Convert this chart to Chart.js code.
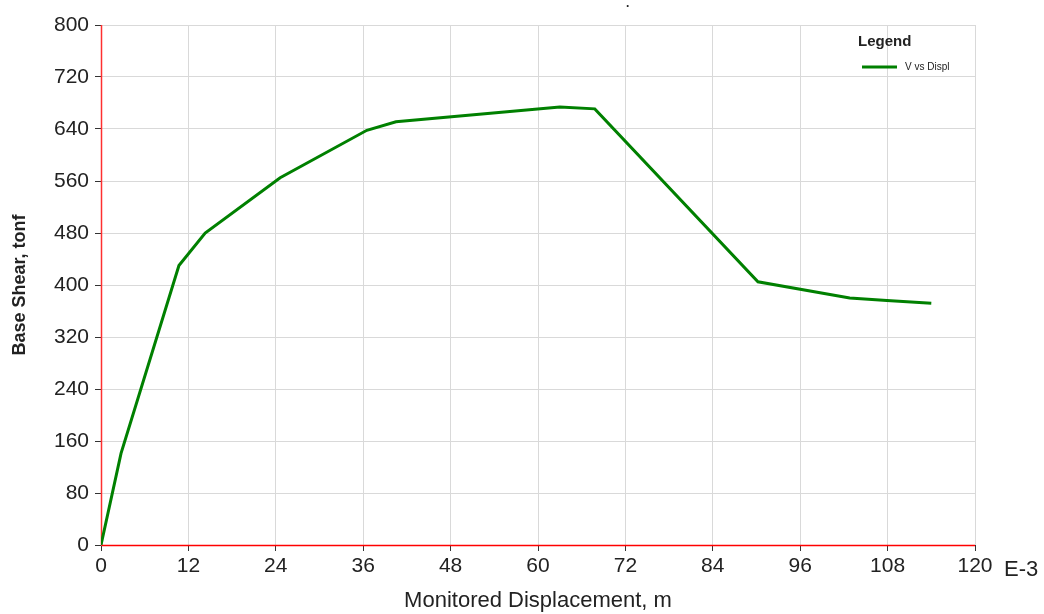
<!DOCTYPE html>
<html>
<head>
<meta charset="utf-8">
<script src="https://cdn.jsdelivr.net/npm/chart.js@4/dist/chart.umd.min.js"></script>
<style>
  html, body { margin: 0; padding: 0; background: #fff; }
  #wrap { width: 1044px; height: 614px; position: relative; }
</style>
</head>
<body>
<div id="wrap"><canvas id="c" width="1044" height="614"></canvas></div>
<script>
// Pushover curve: monitored displacement (x 1E-3 m) vs base shear (tonf)
const displacement = [0, 2.75, 10.7, 14.3, 24.6, 36.5, 40.5, 63.0, 67.8, 90.2, 102.8, 107.9, 114.0];
const baseShear    = [0, 141, 430, 480, 565, 638, 651, 674, 671, 405, 380, 376, 372];
const seriesName = 'V vs Displ';
const xTicks = [0, 12, 24, 36, 48, 60, 72, 84, 96, 108, 120];
const yTicks = [0, 80, 160, 240, 320, 400, 480, 560, 640, 720, 800];

const points = displacement.map((x, i) => ({ x: x, y: baseShear[i] }));
const FONT = '"Liberation Sans", Arial, sans-serif';

// Red axis lines along x = 0 and y = 0, under the curve
const axisLines = {
  id: 'axisLines',
  beforeDatasetsDraw(chart) {
    const ctx = chart.ctx;
    const xs = chart.scales.x, ys = chart.scales.y;
    const x0 = Math.round(xs.getPixelForValue(0)) + 0.5;
    const y0 = Math.round(ys.getPixelForValue(0)) + 0.5;
    ctx.save();
    ctx.lineWidth = 1.5;
    ctx.strokeStyle = '#ff3030';
    ctx.beginPath();
    ctx.moveTo(x0, ys.getPixelForValue(800));
    ctx.lineTo(x0, y0);
    ctx.stroke();
    ctx.strokeStyle = '#ff0000';
    ctx.beginPath();
    ctx.moveTo(x0, y0);
    ctx.lineTo(xs.getPixelForValue(120), y0);
    ctx.stroke();
    ctx.restore();
  }
};

// Legend box, axis-unit suffix, y-axis title and the small title mark
const extras = {
  id: 'extras',
  afterDraw(chart) {
    const ctx = chart.ctx;
    ctx.save();
    ctx.fillStyle = '#222';
    ctx.textBaseline = 'alphabetic';
    ctx.textAlign = 'left';
    ctx.font = '22px ' + FONT;
    ctx.fillText('E-3', 1004, 576);
    ctx.font = 'bold 15px ' + FONT;
    ctx.fillText('Legend', 858, 46);
    ctx.strokeStyle = '#008000';
    ctx.lineWidth = 3;
    ctx.beginPath();
    ctx.moveTo(862, 67);
    ctx.lineTo(897, 67);
    ctx.stroke();
    ctx.font = '10px ' + FONT;
    ctx.fillStyle = '#222';
    ctx.fillText(seriesName, 905, 70);
    ctx.font = 'bold 12px ' + FONT;
    ctx.fillText('.', 626, 7);
    // y-axis title
    ctx.translate(25, 285);
    ctx.rotate(-Math.PI / 2);
    ctx.textAlign = 'center';
    ctx.font = 'bold 18px ' + FONT;
    ctx.fillText('Base Shear, tonf', 0, 0);
    ctx.restore();
  }
};

new Chart(document.getElementById('c'), {
  type: 'scatter',
  data: {
    datasets: [{
      label: seriesName,
      data: points,
      showLine: true,
      borderColor: '#008000',
      backgroundColor: '#008000',
      borderWidth: 3,
      pointRadius: 0,
      tension: 0
    }]
  },
  options: {
    responsive: false,
    animation: false,
    layout: { padding: { top: 25, right: 69, left: 0, bottom: 0 } },
    plugins: { legend: { display: false }, tooltip: { enabled: false } },
    scales: {
      x: {
        type: 'linear',
        min: 0, max: 120,
        afterBuildTicks(s) { s.ticks = xTicks.map(v => ({ value: v })); },
        afterFit(s) { s.height = 69; },
        grid: { color: '#d9d9d9', lineWidth: 1, tickLength: 6, tickColor: '#333' },
        border: { display: false },
        ticks: { color: '#222', font: { family: FONT, size: 21 }, padding: 3, maxRotation: 0 },
        title: {
          display: true, text: 'Monitored Displacement, m', color: '#222',
          font: { family: FONT, size: 22 }, padding: { top: 3, bottom: 0 }
        }
      },
      y: {
        type: 'linear',
        min: 0, max: 800,
        afterBuildTicks(s) { s.ticks = yTicks.map(v => ({ value: v })); },
        afterFit(s) { s.width = 101; },
        grid: { color: '#d9d9d9', lineWidth: 1, tickLength: 6, tickColor: '#333' },
        border: { display: false },
        ticks: { color: '#222', font: { family: FONT, size: 21 }, padding: 6 },
        title: { display: false }
      }
    }
  },
  plugins: [axisLines, extras]
});
</script>
</body>
</html>
